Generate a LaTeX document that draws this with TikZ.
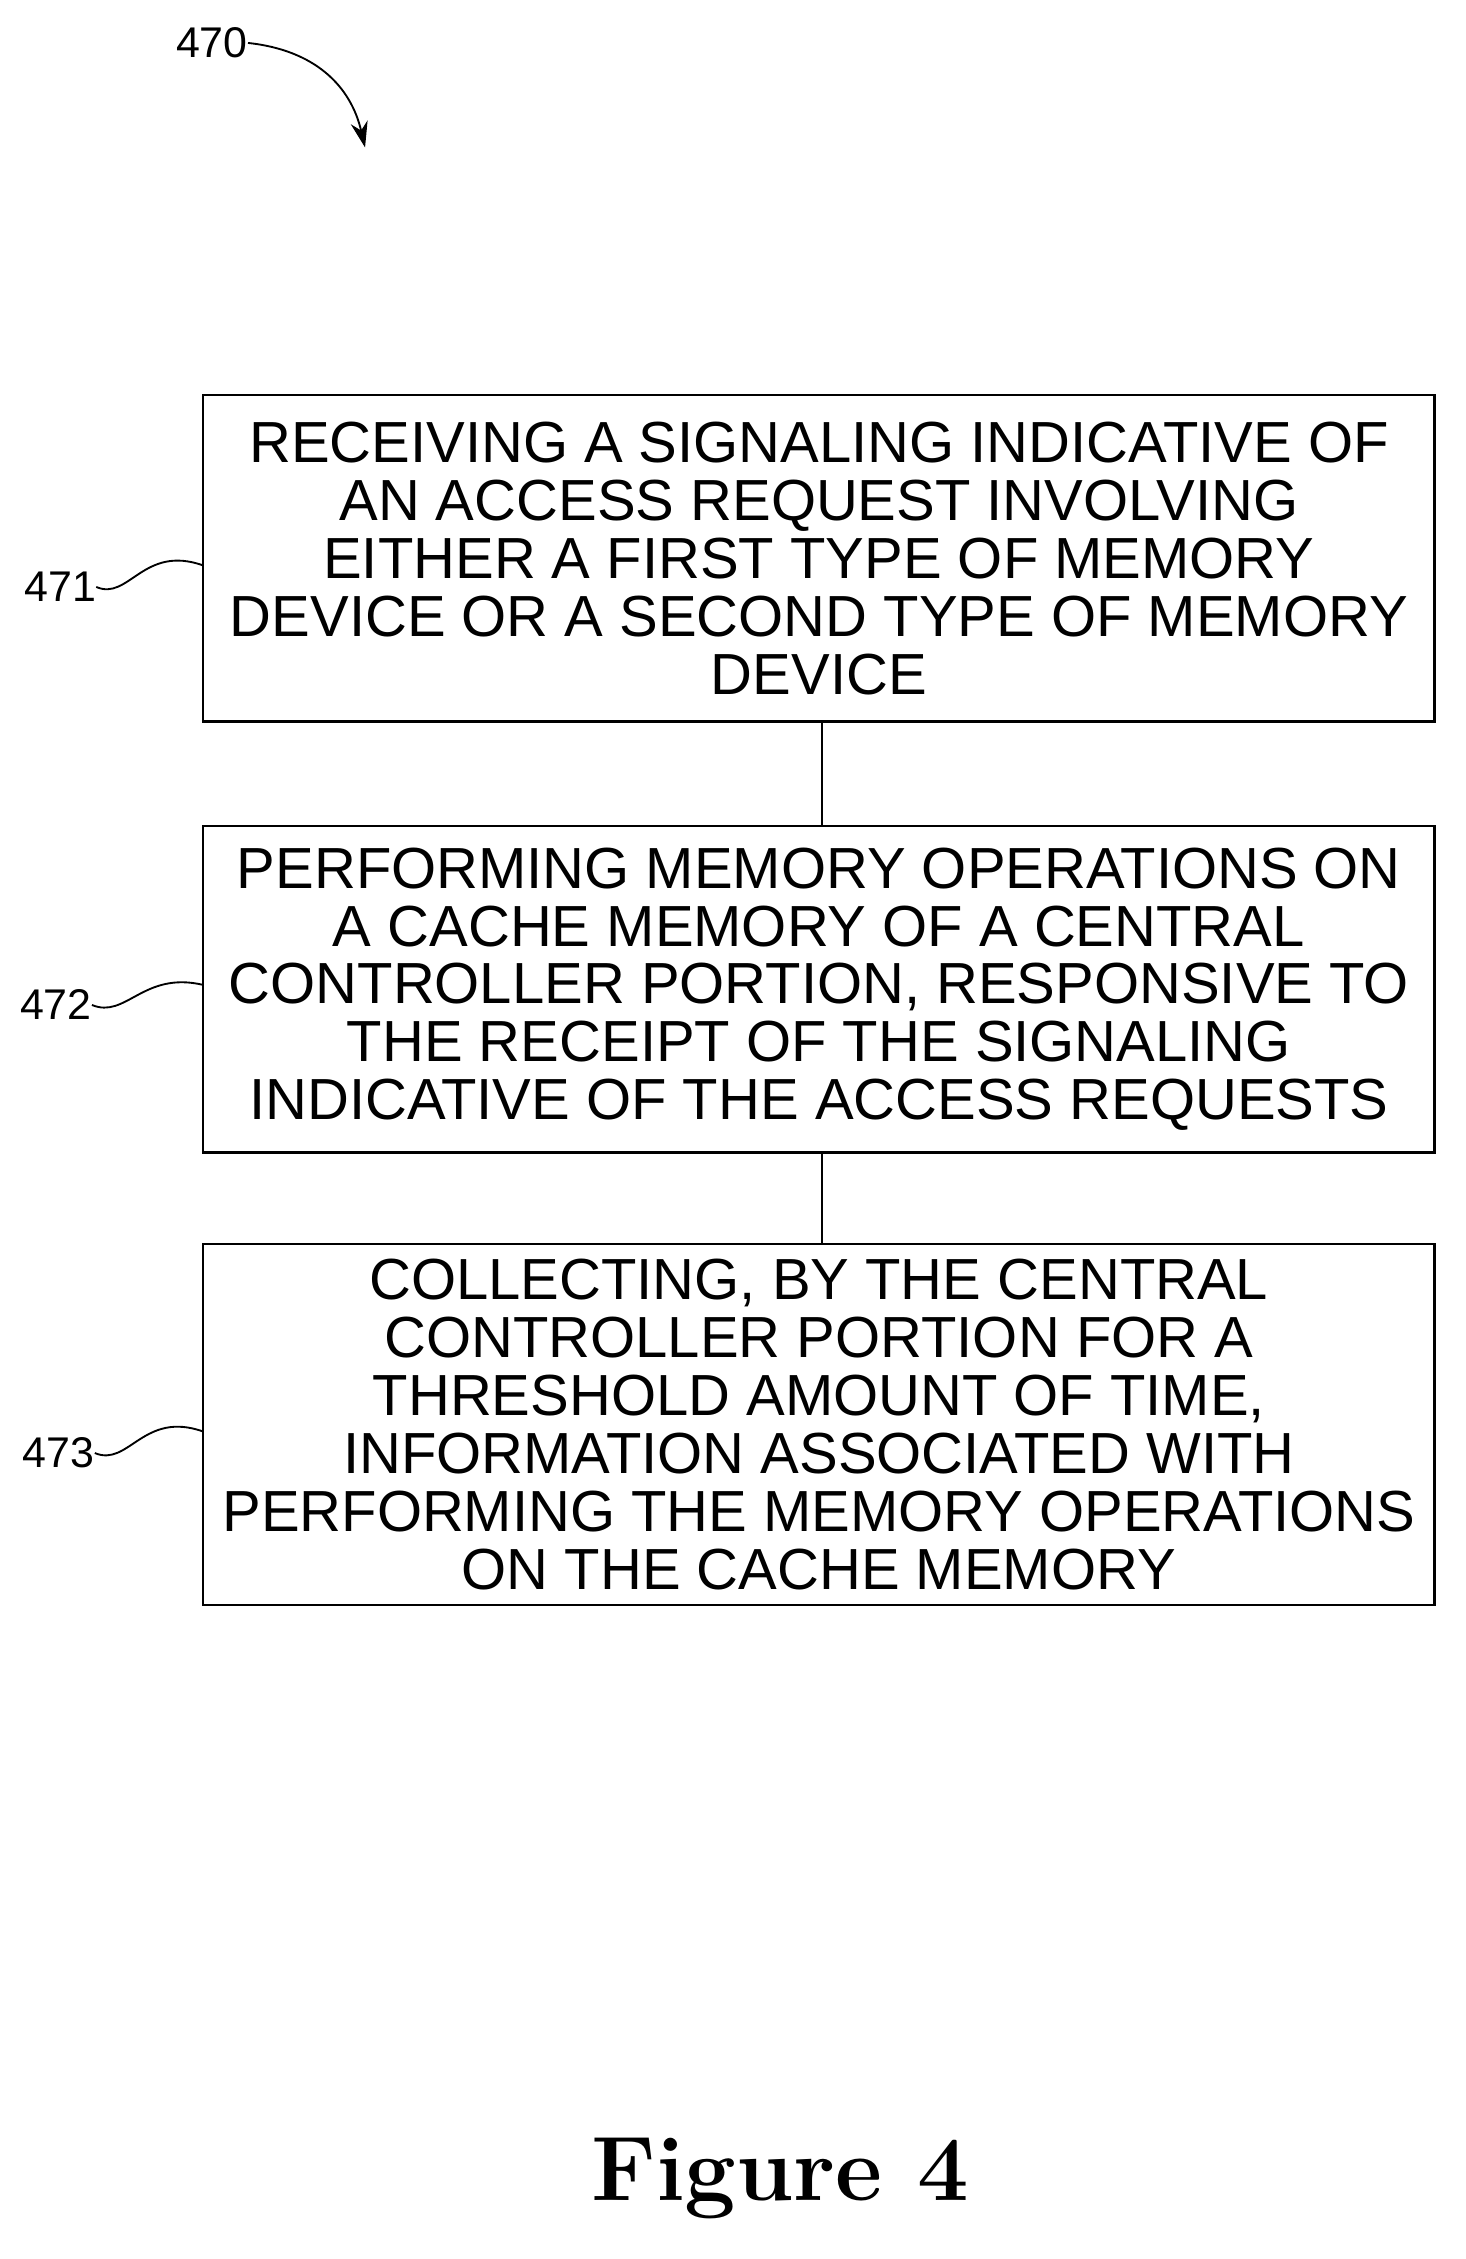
\documentclass[tikz,border=0pt]{standalone}
\usepackage{fontspec}
\setmainfont{Liberation Sans}
\newfontfamily\figfont{Latin Modern Roman}
\usetikzlibrary{arrows.meta}
\begin{document}
\begin{tikzpicture}[x=1pt,y=-1pt,
  box/.style={draw,line width=1.6pt,minimum width=860pt,inner sep=0pt,align=center,font=\fontsize{40.5}{40.5}\selectfont},
  lab/.style={font=\fontsize{30}{30}\selectfont,inner sep=0pt},
  sq/.style={line width=1.3pt}]
\useasboundingbox (0,0) rectangle (1024,1578);
\node[box,minimum height=228pt] (b1) at (572,390) {RECEIVING A SIGNALING INDICATIVE OF\\AN ACCESS REQUEST INVOLVING\\EITHER A FIRST TYPE OF MEMORY\\DEVICE OR A SECOND TYPE OF MEMORY\\DEVICE};
\node[box,minimum height=228pt] (b2) at (572,691) {PERFORMING MEMORY OPERATIONS ON\\A CACHE MEMORY OF A CENTRAL\\CONTROLLER PORTION, RESPONSIVE TO\\THE RECEIPT OF THE SIGNALING\\INDICATIVE OF THE ACCESS REQUESTS};
\node[box,minimum height=252pt] (b3) at (572,995) {COLLECTING, BY THE CENTRAL\\CONTROLLER PORTION FOR A\\THRESHOLD AMOUNT OF TIME,\\INFORMATION ASSOCIATED WITH\\PERFORMING THE MEMORY OPERATIONS\\ON THE CACHE MEMORY};
\draw[line width=1.6pt] (574,504) -- (574,577);
\draw[line width=1.6pt] (574,805) -- (574,869);
\node[lab] (l1) at (42,410) {471};
\node[lab] (l2) at (39,702) {472};
\node[lab] (l3) at (41,1015) {473};
\node[lab] (l0) at (148,30) {470};
\draw[sq] (l1.east) .. controls (90,420) and (100,380) .. (142,395);
\draw[sq] (l2.east) .. controls (88,712) and (100,678) .. (142,688);
\draw[sq] (l3.east) .. controls (90,1025) and (100,985) .. (142,1000);
\draw[sq,-{Stealth[length=18pt,width=12pt]}] (l0.east) .. controls (220,35) and (245,60) .. (255,103);
\node[font=\figfont\bfseries\fontsize{64}{64}\selectfont] (fig) at (545,1522) {Figure 4};
\end{tikzpicture}
\end{document}
